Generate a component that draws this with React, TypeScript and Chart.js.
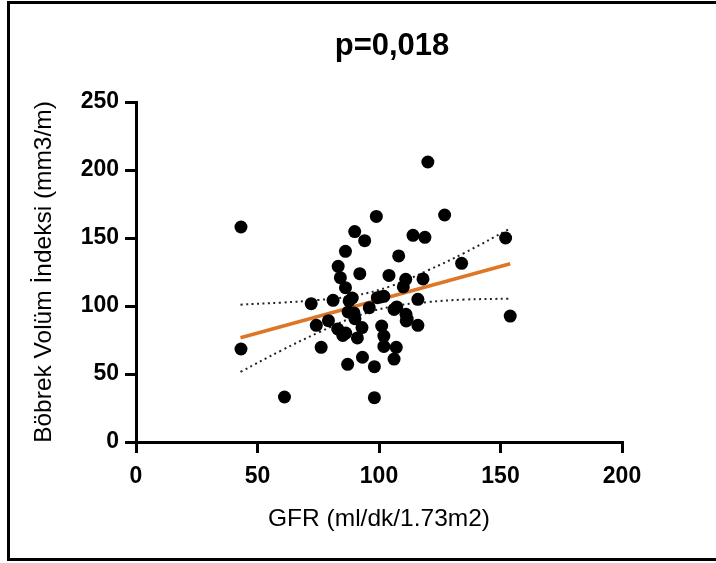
import React, { useEffect, useRef } from "react";
import { Chart, registerables } from "chart.js";

Chart.register(...registerables);

const TITLE = "p=0,018";
const X_TITLE = "GFR (ml/dk/1.73m2)";
const Y_TITLE = "Böbrek Volüm İndeksi (mm3/m)";

const X_MIN = 0;
const X_MAX = 200;
const X_STEP = 50;
const Y_MIN = 0;
const Y_MAX = 250;
const Y_STEP = 50;

const gfr = [
  43.2, 43.2, 61.1, 72.1, 74.2, 76.2, 79.2, 81.1, 83.2, 84.1, 83.0, 85.1, 86.3, 86.2, 86.2,
  87.1, 87.7, 89.0, 87.3, 90.0, 90.1, 89.7, 91.1, 92.1, 93.0, 93.2, 94.1, 96.0, 98.1, 98.1,
  98.9, 99.3, 100.7, 102.0, 101.1, 102.0, 102.0, 104.1, 106.2, 107.1, 106.2, 107.3, 108.1,
  110.0, 111.0, 111.1, 111.6, 111.2, 114.0, 116.0, 116.0, 118.1, 118.9, 120.1, 127.0, 134.0,
  152.1, 154.0,
];
const bvi = [
  158.1, 68.4, 33.1, 101.7, 85.8, 69.6, 89.2, 104.2, 129.2, 120.8, 83.1, 78.4, 80.1, 140.2,
  113.5, 57.1, 103.7, 105.9, 95.6, 154.7, 90.7, 94.9, 76.5, 123.8, 84.1, 62.3, 148.0, 98.8,
  55.4, 32.6, 165.9, 106.1, 106.6, 107.1, 85.3, 77.9, 70.3, 122.5, 61.0, 69.6, 97.5, 99.3,
  136.8, 114.0, 119.6, 93.9, 90.4, 89.0, 152.0, 104.9, 85.8, 119.9, 150.5, 205.9, 166.9,
  131.4, 150.0, 92.6,
];

const fitX = [43, 154];
const fitY = [76.7, 131.1];

const bandX = [43, 60, 75, 90, 105, 120, 135, 154];
const upperBand = [101, 102.5, 104.4, 107.6, 114.7, 126.1, 138.9, 157];
const lowerBand = [51.5, 67.5, 80.4, 92, 99.5, 102.9, 104.7, 105.4];

const toXY = (xs: number[], ys: number[]) => xs.map((x, i) => ({ x, y: ys[i] }));

const FONT = '"Liberation Sans", Arial, Helvetica, sans-serif';

const titlePlugin = {
  id: "customTitle",
  afterDraw(chart: any) {
    const { ctx, chartArea } = chart;
    ctx.save();
    ctx.font = `bold 31px ${FONT}`;
    ctx.fillStyle = "#000";
    ctx.textAlign = "center";
    ctx.textBaseline = "middle";
    ctx.fillText(TITLE, (chartArea.left + chartArea.right) / 2 + 13, chartArea.top - 56);
    ctx.restore();
  },
};

export default function App() {
  const ref = useRef<HTMLCanvasElement | null>(null);

  useEffect(() => {
    if (!ref.current) return;
    const chart = new Chart(ref.current, {
      type: "scatter",
      data: {
        datasets: [
          {
            type: "scatter",
            data: toXY(gfr, bvi),
            pointRadius: 6.5,
            pointBackgroundColor: "#000",
            pointBorderWidth: 0,
            order: 0,
          } as any,
          {
            type: "line",
            data: toXY(fitX, fitY),
            borderColor: "#DE7628",
            borderWidth: 3.5,
            pointRadius: 0,
            fill: false,
            order: 1,
          },
          {
            type: "line",
            data: toXY(bandX, upperBand),
            borderColor: "#222",
            borderWidth: 2,
            borderDash: [2, 3.5],
            pointRadius: 0,
            tension: 0.4,
            fill: false,
            order: 2,
          },
          {
            type: "line",
            data: toXY(bandX, lowerBand),
            borderColor: "#222",
            borderWidth: 2,
            borderDash: [2, 3.5],
            pointRadius: 0,
            tension: 0.4,
            fill: false,
            order: 2,
          },
        ],
      },
      options: {
        responsive: false,
        animation: false,
        events: [],
        layout: { padding: { left: 0, right: 94, top: 102, bottom: 0 } },
        plugins: {
          legend: { display: false },
          tooltip: { enabled: false },
          title: { display: false },
        },
        scales: {
          x: {
            type: "linear",
            min: X_MIN,
            max: X_MAX,
            afterFit: (s: any) => {
              s.height = 121;
            },
            ticks: {
              stepSize: X_STEP,
              color: "#000",
              padding: 10,
              font: { family: FONT, size: 23, weight: "bold" },
            },
            grid: {
              drawOnChartArea: false,
              drawTicks: true,
              color: "#000",
              lineWidth: 3,
              tickLength: 11,
            },
            border: { display: true, color: "#000", width: 3 },
            title: {
              display: true,
              text: X_TITLE,
              color: "#000",
              font: { family: FONT, size: 24.5 },
              padding: { top: 0, bottom: 29 },
            },
          },
          y: {
            type: "linear",
            min: Y_MIN,
            max: Y_MAX,
            afterFit: (s: any) => {
              s.width = 136;
            },
            ticks: {
              stepSize: Y_STEP,
              color: "#000",
              padding: 6,
              font: { family: FONT, size: 23, weight: "bold" },
            },
            grid: {
              drawOnChartArea: false,
              drawTicks: true,
              color: "#000",
              lineWidth: 3,
              tickLength: 11,
            },
            border: { display: true, color: "#000", width: 3 },
            title: {
              display: true,
              text: Y_TITLE,
              color: "#000",
              font: { family: FONT, size: 24.5 },
              padding: { top: 30, bottom: 0 },
            },
          },
        },
      },
      plugins: [titlePlugin],
    });
    return () => chart.destroy();
  }, []);

  return (
    <div
      style={{
        position: "fixed",
        left: 0,
        top: 0,
        width: 716,
        height: 563,
        background: "#fff",
        overflow: "hidden",
      }}
    >
      <canvas
        ref={ref}
        width={716}
        height={563}
        style={{ position: "absolute", left: 0, top: 0, width: 716, height: 563 }}
      />
      <div
        style={{
          position: "absolute",
          left: 7,
          top: 1,
          width: 706,
          height: 554,
          borderLeft: "3px solid #000",
          borderTop: "3px solid #000",
          borderBottom: "3px solid #000",
          pointerEvents: "none",
        }}
      />
    </div>
  );
}
